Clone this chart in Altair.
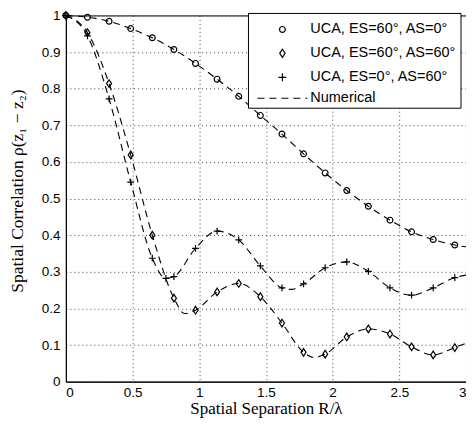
import altair as alt
import pandas as pd

# ---------------- data ----------------
x_grid = [0, 0.162, 0.324, 0.486, 0.648, 0.81, 0.972, 1.134, 1.296, 1.458, 1.62,
          1.782, 1.944, 2.106, 2.268, 2.43, 2.592, 2.754, 2.916]
circle_y = [1.0, 0.995, 0.984, 0.964, 0.939, 0.907, 0.869, 0.826, 0.779, 0.727, 0.676,
            0.622, 0.570, 0.522, 0.479, 0.441, 0.409, 0.388, 0.373]
diamond_y = [1.0, 0.953, 0.814, 0.619, 0.400, 0.228, 0.195, 0.245, 0.268, 0.232, 0.160,
             0.080, 0.075, 0.122, 0.144, 0.130, 0.095, 0.073, 0.093]
plus_x = [0, 0.162, 0.324, 0.486, 0.648, 0.75, 0.81, 0.972, 1.134, 1.296, 1.458, 1.62,
          1.782, 1.944, 2.106, 2.268, 2.43, 2.592, 2.754, 2.916]
plus_y = [1.0, 0.944, 0.772, 0.545, 0.337, 0.282, 0.287, 0.364, 0.411, 0.387, 0.316, 0.256,
          0.267, 0.311, 0.327, 0.301, 0.256, 0.236, 0.256, 0.284]

# numerical (dashed) curves
num_circle_x = x_grid + [3.0]
num_circle_y = circle_y + [0.368]
num_diamond_x = [0, 0.162, 0.324, 0.486, 0.648, 0.81, 0.89, 0.972, 1.134, 1.296, 1.458, 1.62,
                 1.782, 1.86, 1.944, 2.106, 2.268, 2.43, 2.592, 2.754, 2.916, 3.0]
num_diamond_y = [1.0, 0.953, 0.814, 0.619, 0.400, 0.228, 0.186, 0.195, 0.245, 0.268, 0.232, 0.160,
                 0.080, 0.066, 0.075, 0.122, 0.144, 0.130, 0.095, 0.073, 0.093, 0.105]
num_plus_x = [0, 0.162, 0.324, 0.486, 0.648, 0.75, 0.81, 0.972, 1.134, 1.296, 1.458, 1.62,
              1.69, 1.782, 1.944, 2.106, 2.268, 2.43, 2.592, 2.754, 2.916, 3.0]
num_plus_y = [1.0, 0.944, 0.772, 0.545, 0.337, 0.282, 0.287, 0.364, 0.411, 0.387, 0.316, 0.256,
              0.252, 0.267, 0.311, 0.327, 0.301, 0.256, 0.236, 0.256, 0.284, 0.291]

series_labels = ["UCA, ES=60°, AS=0°", "UCA, ES=60°, AS=60°", "UCA, ES=0°, AS=60°", "Numerical"]
x_ticks = [0, 0.5, 1, 1.5, 2, 2.5, 3]
y_ticks = [0, 0.1, 0.2, 0.3, 0.4, 0.5, 0.6, 0.7, 0.8, 0.9, 1]

# ---------------- tables ----------------
markers = pd.concat([
    pd.DataFrame({"x": x_grid, "y": circle_y, "s": series_labels[0]}),
    pd.DataFrame({"x": x_grid, "y": diamond_y, "s": series_labels[1]}),
    pd.DataFrame({"x": plus_x, "y": plus_y, "s": series_labels[2]}),
], ignore_index=True)

numerical = pd.concat([
    pd.DataFrame({"x": num_circle_x, "y": num_circle_y, "c": "a"}),
    pd.DataFrame({"x": num_diamond_x, "y": num_diamond_y, "c": "b"}),
    pd.DataFrame({"x": num_plus_x, "y": num_plus_y, "c": "c"}),
], ignore_index=True)

CIRCLE = "circle"
DIAMOND = "M0,-1.2L0.8,0L0,1.2L-0.8,0Z"
PLUS = "M-1,0L1,0M0,-1L0,1"
shape_range = [CIRCLE, DIAMOND, PLUS]
size_range = [34, 46, 64]

SANS = "Liberation Sans"
SERIF = "Liberation Serif"
W, H = 401, 367

xs = alt.Scale(domain=[0, 3], nice=False, zero=False)
ys = alt.Scale(domain=[0, 1], nice=False, zero=False)

x_axis = alt.Axis(values=x_ticks, tickCount=7, format="~g", title="Spatial Separation R/λ",
                  ticks=False, labelPadding=4, labelOverlap=False,
                  titleY=27, titleBaseline="middle",
                  titleFont=SERIF, titleFontSize=17, titleFontWeight="normal")
y_axis = alt.Axis(values=y_ticks, tickCount=11, format="~g", title="Spatial Correlation ρ(z₁ − z₂)",
                  ticks=False, labelPadding=6, labelOverlap=False,
                  titleX=-48, titleY=H / 2 - 8,
                  titleAngle=-90, titleBaseline="middle", titleAlign="center",
                  titleFont=SERIF, titleFontSize=17.5, titleFontWeight="normal")

lines = alt.Chart(numerical).mark_line(
    color="black", strokeWidth=1.1, strokeDash=[7, 5], interpolate="monotone"
).encode(
    x=alt.X("x:Q", scale=xs, axis=x_axis),
    y=alt.Y("y:Q", scale=ys, axis=y_axis),
    detail="c:N",
)

points = alt.Chart(markers).mark_point(
    color="black", filled=False, strokeWidth=1.2, opacity=1
).encode(
    x=alt.X("x:Q", scale=xs, axis=x_axis),
    y=alt.Y("y:Q", scale=ys, axis=y_axis),
    shape=alt.Shape("s:N", scale=alt.Scale(domain=series_labels[:3], range=shape_range), legend=None),
    size=alt.Size("s:N", scale=alt.Scale(domain=series_labels[:3], range=size_range), legend=None),
)

# ---------------- custom legend ----------------
lx0, lx1, ly0, ly1 = 183, 396, -2, 93
row_y = [14, 38, 62, 83]
mark_x = 217
text_x = 245

leg_df = pd.DataFrame({"label": series_labels})

box = alt.Chart(leg_df).transform_filter(alt.datum.label == series_labels[0]).mark_rect(
    fill="white", stroke="black", strokeWidth=1
).encode(x=alt.value(lx0), x2=alt.value(lx1), y=alt.value(ly0), y2=alt.value(ly1))

leg_layers = [box]
for i in range(4):
    base = alt.Chart(leg_df).transform_filter(alt.datum.label == series_labels[i])
    leg_layers.append(
        base.mark_text(align="left", baseline="middle", font=SANS, fontSize=14.5, color="black")
        .encode(x=alt.value(text_x), y=alt.value(row_y[i]), text="label:N")
    )
    if i < 3:
        leg_layers.append(
            base.mark_point(color="black", filled=False, strokeWidth=1.2, opacity=1,
                            shape=shape_range[i], size=size_range[i])
            .encode(x=alt.value(mark_x), y=alt.value(row_y[i]))
        )
    else:
        leg_layers.append(
            base.mark_rule(color="black", strokeWidth=1.1, strokeDash=[7, 5])
            .encode(x=alt.value(192), x2=alt.value(242), y=alt.value(row_y[i]))
        )

chart = alt.layer(lines, points, *leg_layers).properties(
    width=W, height=H, autosize="none",
    padding={"left": 58, "top": 7, "right": 0, "bottom": 38},
).configure_view(
    stroke="black", strokeWidth=1
).configure_axis(
    domainColor="black", domainWidth=1,
    labelFont=SANS, labelFontSize=13.5, labelColor="black",
    titleColor="black",
    grid=True, gridColor="#333333", gridOpacity=1, gridDash=[1, 3], gridWidth=0.9,
)

chart.save("out.html", embed_options={"renderer": "svg", "actions": False})
